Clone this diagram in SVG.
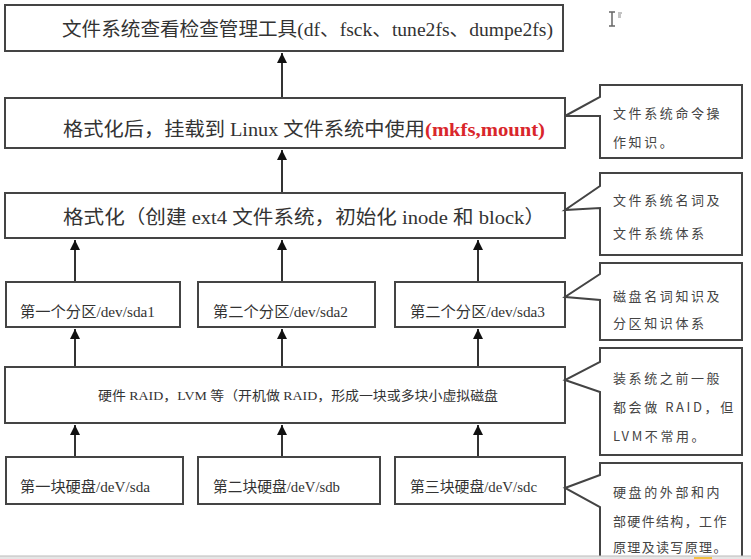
<svg xmlns="http://www.w3.org/2000/svg" width="751" height="559" viewBox="0 0 751 559">
<defs>
<style>
.box{fill:#fff;stroke:#444;stroke-width:2}
.t{font-family:"Liberation Serif","Noto Sans CJK SC",serif;fill:#333}
.c{font-family:"Noto Sans CJK SC","Liberation Serif",sans-serif;fill:#444;font-size:13px;letter-spacing:2.6px}
.ln{stroke:#333;stroke-width:2;fill:none}
.co{fill:#fff;stroke:#444;stroke-width:2;stroke-linejoin:miter}
</style>
<marker id="ah" viewBox="0 0 10 10" refX="10" refY="5" markerWidth="5" markerHeight="5" orient="auto" markerUnits="strokeWidth">
<path d="M0,0 L10,5 L0,10 z" fill="#111"/>
</marker>
</defs>
<rect width="751" height="559" fill="#fff"/>

<g id="connectors">
<line class="ln" x1="282" y1="98" x2="282" y2="53" marker-end="url(#ah)"/>
<line class="ln" x1="282" y1="193" x2="282" y2="150" marker-end="url(#ah)"/>
<line class="ln" x1="75" y1="282" x2="75" y2="240" marker-end="url(#ah)"/>
<line class="ln" x1="282" y1="282" x2="282" y2="240" marker-end="url(#ah)"/>
<line class="ln" x1="478" y1="282" x2="478" y2="240" marker-end="url(#ah)"/>
<line class="ln" x1="75" y1="367" x2="75" y2="329" marker-end="url(#ah)"/>
<line class="ln" x1="282" y1="367" x2="282" y2="329" marker-end="url(#ah)"/>
<line class="ln" x1="478" y1="367" x2="478" y2="329" marker-end="url(#ah)"/>
<line class="ln" x1="75" y1="457" x2="75" y2="425" marker-end="url(#ah)"/>
<line class="ln" x1="282" y1="457" x2="282" y2="425" marker-end="url(#ah)"/>
<line class="ln" x1="478" y1="457" x2="478" y2="425" marker-end="url(#ah)"/>
</g>

<g id="n-tools">
<rect class="box" x="5" y="5" width="558" height="46"/>
<text class="t" x="62" y="36" font-size="19" textLength="491" lengthAdjust="spacingAndGlyphs">文件系统查看检查管理工具(df、fsck、tune2fs、dumpe2fs)</text>
</g>

<g id="n-mount">
<rect class="box" x="5" y="98" width="560" height="50"/>
<text class="t" x="63" y="136" font-size="19"><tspan textLength="362" lengthAdjust="spacingAndGlyphs">格式化后，挂载到 Linux 文件系统中使用</tspan><tspan fill="#d9262b" font-weight="bold" textLength="120" lengthAdjust="spacingAndGlyphs">(mkfs,mount)</tspan></text>
</g>

<g id="n-format">
<rect class="box" x="5" y="193" width="560" height="45"/>
<text class="t" x="63" y="224" font-size="19" textLength="482" lengthAdjust="spacingAndGlyphs">格式化（创建 ext4 文件系统，初始化 inode 和 block）</text>
</g>

<g id="n-sda1">
<rect class="box" x="6" y="282" width="174" height="45"/>
<text class="t" x="20" y="317" font-size="15" textLength="135" lengthAdjust="spacingAndGlyphs">第一个分区/dev/sda1</text>
</g>
<g id="n-sda2">
<rect class="box" x="198" y="282" width="177" height="45"/>
<text class="t" x="213" y="317" font-size="15" textLength="135" lengthAdjust="spacingAndGlyphs">第二个分区/dev/sda2</text>
</g>
<g id="n-sda3">
<rect class="box" x="395" y="282" width="170" height="45"/>
<text class="t" x="410" y="317" font-size="15" textLength="135" lengthAdjust="spacingAndGlyphs">第二个分区/dev/sda3</text>
</g>

<g id="n-raid">
<rect class="box" x="5" y="367" width="560" height="56"/>
<text class="t" x="98" y="400" font-size="13" textLength="400" lengthAdjust="spacingAndGlyphs">硬件 RAID，LVM 等（开机做 RAID，形成一块或多块小虚拟磁盘</text>
</g>

<g id="n-sda">
<rect class="box" x="6" y="457" width="177" height="47"/>
<text class="t" x="20" y="492" font-size="15" textLength="130" lengthAdjust="spacingAndGlyphs">第一块硬盘/deV/sda</text>
</g>
<g id="n-sdb">
<rect class="box" x="198" y="457" width="182" height="47"/>
<text class="t" x="213" y="492" font-size="15" textLength="127" lengthAdjust="spacingAndGlyphs">第二块硬盘/deV/sdb</text>
</g>
<g id="n-sdc">
<rect class="box" x="395" y="457" width="170" height="47"/>
<text class="t" x="410" y="492" font-size="15" textLength="127" lengthAdjust="spacingAndGlyphs">第三块硬盘/deV/sdc</text>
</g>

<g id="c1">
<path class="co" d="M600,97 L600,85 L742,85 L742,158 L600,158 L600,116 L565,116 Z"/>
<text class="c" x="613" y="118">文件系统命令操</text>
<text class="c" x="613" y="147">作知识。</text>
</g>
<g id="c2">
<path class="co" d="M600,186 L600,173 L742,173 L742,255 L600,255 L600,208 L565,210 Z"/>
<text class="c" x="613" y="205">文件系统名词及</text>
<text class="c" x="613" y="238">文件系统体系</text>
</g>
<g id="c3">
<path class="co" d="M600,274 L600,263 L742,263 L742,340 L600,340 L600,300 L565,297 Z"/>
<text class="c" x="613" y="301">磁盘名词知识及</text>
<text class="c" x="613" y="328">分区知识体系</text>
</g>
<g id="c4">
<path class="co" d="M600,362 L600,348 L742,348 L742,455 L600,455 L600,392 L565,380 Z"/>
<text class="c" x="613" y="383">装系统之前一般</text>
<text class="c" x="613" y="412">都会做 RAID，但</text>
<text class="c" x="613" y="441">LVM不常用。</text>
</g>
<g id="c5">
<path class="co" d="M600,475 L600,463 L742,463 L742,570 L600,570 L600,507 L565,488 Z"/>
<text class="c" x="613" y="497">硬盘的外部和内</text>
<text class="c" x="613" y="526" textLength="116" lengthAdjust="spacing">部硬件结构，工作</text>
<text class="c" x="613" y="552" textLength="116" lengthAdjust="spacing">原理及读写原理。</text>
</g>

<rect x="0" y="556" width="751" height="3" fill="#e6e6e6"/>
<line x1="0" y1="556" x2="751" y2="556" stroke="#bbb" stroke-width="1"/>
<rect x="694" y="557" width="18" height="2" fill="#f0c040"/>

<g id="cursor" stroke="#666" stroke-width="1.5" fill="none">
<line x1="612" y1="12" x2="612" y2="26"/>
<line x1="609" y1="12" x2="615" y2="12"/>
<line x1="609" y1="26" x2="615" y2="26"/>
<path d="M618,13 h4 M618,15 h3 M618,17 h3" stroke="#888" stroke-width="1"/>
</g>
</svg>
